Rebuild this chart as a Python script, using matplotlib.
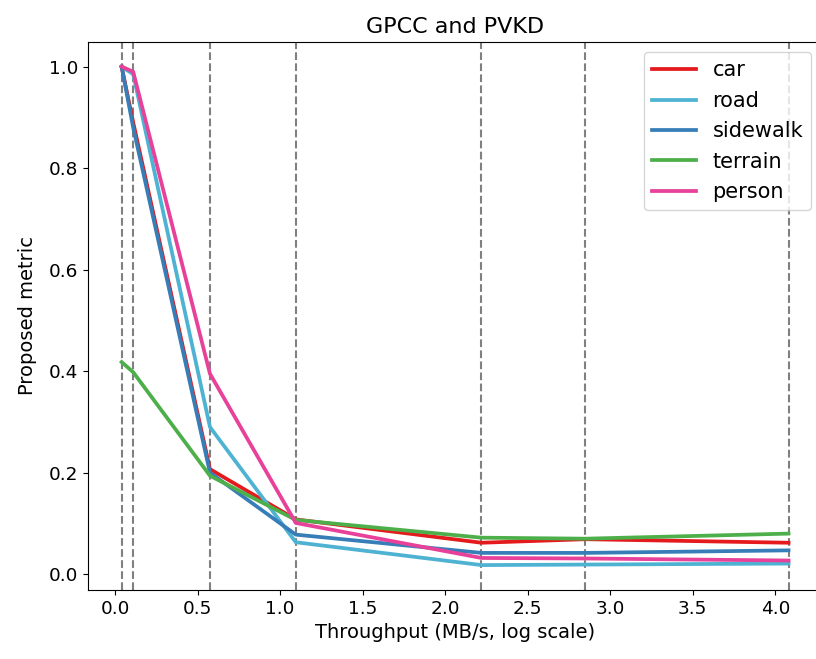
#!/usr/bin/env python3

import matplotlib
matplotlib.use("Agg")
import matplotlib.pyplot as plt

# throughput points (also where the dashed guides go)
throughput = [0.04, 0.11, 0.575, 1.095, 2.22, 2.85, 4.08]

car = [1.0, 0.89, 0.207, 0.108, 0.062, 0.069, 0.062]
road = [1.0, 0.985, 0.29, 0.063, 0.018, 0.019, 0.021]
sidewalk = [1.0, 0.88, 0.200, 0.078, 0.042, 0.042, 0.047]
terrain = [0.418, 0.398, 0.194, 0.107, 0.072, 0.070, 0.080]
person = [1.0, 0.99, 0.395, 0.101, 0.032, 0.031, 0.027]

series = [
    ("car", car, "#e41a1c"),
    ("road", road, "#4eb3d3"),
    ("sidewalk", sidewalk, "#377eb8"),
    ("terrain", terrain, "#4daf4a"),
    ("person", person, "#e7419a"),
]

plt.rcParams["font.size"] = 13.3

fig = plt.figure(figsize=(8.16, 6.59), dpi=100)
# axes runs a little past the right edge, as in the reference crop
ax = fig.add_axes([0.1082, 0.1047, 0.899, 0.832])

for x in throughput:
    ax.axvline(x, color="gray", linestyle="--", linewidth=1.5)

for name, vals, col in series:
    ax.plot(throughput, vals, label=name, color=col, linewidth=2.7)

ax.set_title("GPCC and PVKD", fontsize=16)
ax.set_xlabel("Throughput (MB/s, log scale)", fontsize=14)
ax.set_ylabel("Proposed metric", fontsize=14, labelpad=9)
ax.legend(loc="upper right", fontsize=15, handlelength=2.1)

fig.savefig("out.png", dpi=100)
